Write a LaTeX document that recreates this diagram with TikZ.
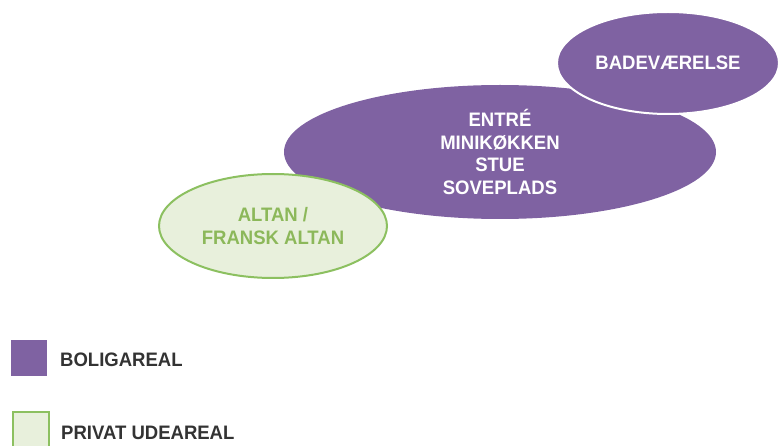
\documentclass[tikz,border=0pt]{standalone}
\usepackage{fontspec}
\setmainfont{Liberation Sans}[FakeStretch=0.95]
\usetikzlibrary{shapes.geometric}
\definecolor{purp}{RGB}{127,98,162}
\definecolor{gline}{RGB}{140,192,96}
\definecolor{gfill}{RGB}{232,240,220}
\definecolor{gtext}{RGB}{140,184,90}
\definecolor{dark}{RGB}{51,51,51}
\begin{document}
\begin{tikzpicture}[x=1pt,y=-1pt,
  room/.style={ellipse, inner sep=0pt, align=center, font=\fontsize{19.5}{22.6}\selectfont\bfseries},
  purproom/.style={room, fill=purp, text=white},
  greenroom/.style={room, fill=gfill, draw=gline, line width=2pt, text=gtext},
  legbox/.style={minimum size=36pt, inner sep=0pt},
  legtext/.style={anchor=west, inner sep=0pt, text=dark, font=\fontsize{19.5}{22}\selectfont\bfseries}]
\useasboundingbox (0,0) rectangle (779,446);
\node[purproom, minimum width=432pt, minimum height=134pt] (main) at (500,152)
  {ENTRÉ\\MINIKØKKEN\\STUE\\SOVEPLADS};
\node[purproom, draw=white, line width=2pt, minimum width=222pt, minimum height=102pt] (bad) at (668,63) {BADEVÆRELSE};
\node[greenroom, minimum width=228pt, minimum height=104pt] (altan) at (273,226) {ALTAN /\\FRANSK ALTAN};
\node[legbox, fill=purp] (lb1) at (29,357.5) {};
\node[legtext] (lt1) at (60,360) {BOLIGAREAL};
\node[legbox, fill=gfill, draw=gline, line width=2pt] (lb2) at (30.5,430) {};
\node[legtext] (lt2) at (61,433) {PRIVAT UDEAREAL};
\end{tikzpicture}
\end{document}
